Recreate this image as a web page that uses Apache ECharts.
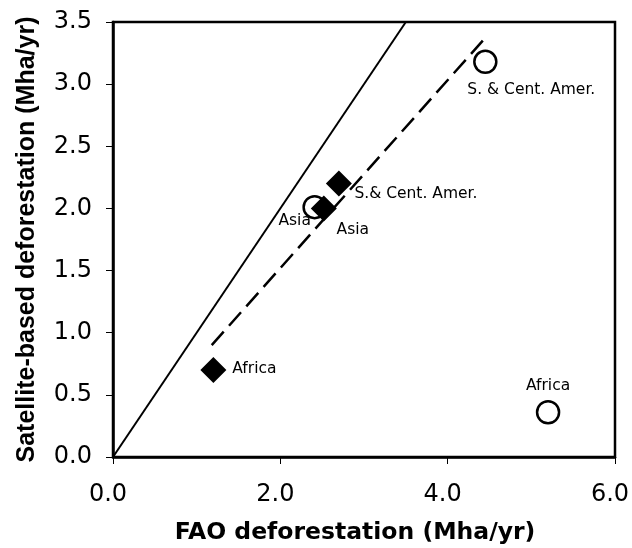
<!DOCTYPE html>
<html>
<head>
<meta charset="utf-8">
<script src="https://cdn.jsdelivr.net/npm/echarts@6/dist/echarts.min.js"></script>
<style>html,body{margin:0;padding:0;background:#fff;}#c{width:632px;height:548px;}</style>
</head>
<body>
<div id="c"></div>
<script>
// Data
const circleLabels = ['Africa', 'Asia', 'S. & Cent. Amer.'];
const circleX = [5.20, 2.41, 4.45];
const circleY = [0.36, 2.01, 3.18];
const diamondLabels = ['Africa', 'Asia', 'S.& Cent. Amer.'];
const diamondX = [1.20, 2.52, 2.70];
const diamondY = [0.70, 2.00, 2.20];
const oneToOneX = [0, 3.5];
const oneToOneY = [0, 3.5];
const fitX = [1.18, 4.42];
const fitY = [0.90, 3.35];
const xTicks = [0, 2, 4, 6];
const yTicks = [0, 0.5, 1, 1.5, 2, 2.5, 3, 3.5];

// label placement (pixels, relative to marker centre)
const circleLabelOffset = [[0, -26], [-20, 14], [46, 28]];
const diamondLabelOffset = [[41, -1], [29, 22], [77, 10]];

const font = '"DejaVu Sans", sans-serif';
const yFont = '"Liberation Sans", Arial, sans-serif';
function pts(xs, ys) { return xs.map((x, i) => [x, ys[i]]); }

const chart = echarts.init(document.getElementById('c'));
chart.setOption({
  animation: false,
  backgroundColor: '#fff',
  grid: { left: 113, right: 17, top: 22, bottom: 91, outerBoundsMode: 'none', containLabel: false, show: true, borderColor: '#000', borderWidth: 2.5, backgroundColor: 'transparent' },
  xAxis: {
    type: 'value', min: xTicks[0], max: xTicks[xTicks.length - 1], interval: 2,
    name: 'FAO deforestation (Mha/yr)', nameLocation: 'middle', nameGap: 64,
    nameTextStyle: { fontFamily: font, fontWeight: 'bold', fontSize: 23.5, color: '#000', padding: [0, 18, 0, 0] },
    axisLine: { lineStyle: { color: '#000', width: 2.5 } },
    axisTick: { show: true, length: 7, lineStyle: { color: '#000', width: 1 } },
    axisLabel: { fontFamily: font, fontSize: 24, color: '#000', margin: 26, padding: [0, 10, 0, 0], formatter: v => v.toFixed(1) },
    splitLine: { show: false }
  },
  yAxis: {
    type: 'value', min: yTicks[0], max: yTicks[yTicks.length - 1], interval: 0.5,
    name: 'Satellite-based deforestation (Mha/yr)', nameLocation: 'middle', nameGap: 73,
    nameTextStyle: { fontFamily: yFont, fontWeight: 'bold', fontSize: 25, color: '#000' },
    axisLine: { lineStyle: { color: '#000', width: 2.5 } },
    axisTick: { show: true, length: 7, lineStyle: { color: '#000', width: 1 } },
    axisLabel: { fontFamily: font, fontSize: 24, color: '#000', margin: 21, formatter: v => v.toFixed(1) },
    splitLine: { show: false }
  },
  series: [
    { type: 'line', data: pts(oneToOneX, oneToOneY), symbol: 'none', lineStyle: { color: '#000', width: 2 }, z: 1 },
    { type: 'line', data: pts(fitX, fitY), symbol: 'none', lineStyle: { color: '#000', width: 2.5, type: [18, 8] }, z: 1 },
    {
      type: 'scatter', symbol: 'circle', symbolSize: 22, z: 2,
      itemStyle: { color: '#fff', borderColor: '#000', borderWidth: 2.5, opacity: 1 },
      data: circleX.map((x, i) => ({
        value: [x, circleY[i]], name: circleLabels[i],
        label: { show: true, position: 'inside', offset: circleLabelOffset[i], formatter: circleLabels[i], color: '#000', fontFamily: font, fontSize: 15.5 }
      }))
    },
    {
      type: 'scatter', symbol: 'diamond', symbolSize: 26, z: 3,
      itemStyle: { color: '#000', opacity: 1 },
      data: diamondX.map((x, i) => ({
        value: [x, diamondY[i]], name: diamondLabels[i],
        label: { show: true, position: 'inside', offset: diamondLabelOffset[i], formatter: diamondLabels[i], color: '#000', fontFamily: font, fontSize: 15.5 }
      }))
    }
  ]
});
</script>
</body>
</html>
